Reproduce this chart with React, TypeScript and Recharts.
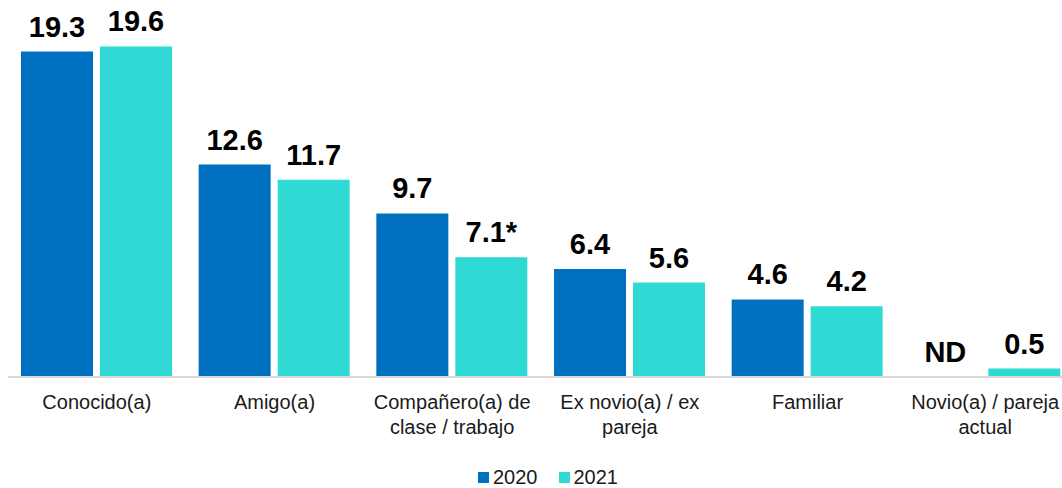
import { BarChart, Bar, XAxis, YAxis, LabelList, Legend } from "recharts";

const categories = [
  "Conocido(a)",
  "Amigo(a)",
  "Compañero(a) de\nclase / trabajo",
  "Ex novio(a) / ex\npareja",
  "Familiar",
  "Novio(a) / pareja\nactual",
];
const values2020: (number | null)[] = [19.3, 12.6, 9.7, 6.4, 4.6, null];
const values2021 = [19.6, 11.7, 7.1, 5.6, 4.2, 0.5];
const labels2020 = ["19.3", "12.6", "9.7", "6.4", "4.6", "ND"];
const labels2021 = ["19.6", "11.7", "7.1*", "5.6", "4.2", "0.5"];

const COLOR_2020 = "#0070c0";
const COLOR_2021 = "#2fd9d4";
const FONT = "'Liberation Sans', Arial, sans-serif";
const BAR_SIZE = 72;
const BAR_GAP = 7;

const data = categories.map((name, i) => ({
  name,
  v2020: values2020[i],
  v2021: values2021[i],
}));

function CategoryTick({ x, y, payload }: any) {
  const lines = String(payload.value).split("\n");
  return (
    <text x={x} y={y} textAnchor="middle" fontSize={20} fill="#1a1a1a" fontFamily={FONT}>
      {lines.map((line, i) => (
        <tspan key={i} x={x} dy={i === 0 ? 32 : 25}>
          {line}
        </tspan>
      ))}
    </text>
  );
}

function labelText(key: string | number, cx: number, y: number, text: string) {
  return (
    <text
      key={key}
      x={cx}
      y={y - 15}
      textAnchor="middle"
      fontSize={29}
      fontWeight="bold"
      fill="#000"
      fontFamily={FONT}
    >
      {text}
    </text>
  );
}

// 2020 labels; missing values are drawn from the 2021 bar instead
function label2020(props: any) {
  if (values2020[props.index] == null) return null;
  const vb = props.viewBox ?? props;
  return labelText("l", vb.x + vb.width / 2, vb.y, labels2020[props.index]);
}

// 2021 labels, plus the "ND" mark of the neighbouring 2020 slot when 2020 has no value
function label2021(props: any) {
  const vb = props.viewBox ?? props;
  const i = props.index;
  const base = vb.y + vb.height;
  return (
    <g>
      {labelText("a", vb.x + vb.width / 2, vb.y, labels2021[i])}
      {values2020[i] == null &&
        labelText("b", vb.x - BAR_GAP - vb.width / 2, base, labels2020[i])}
    </g>
  );
}

function LegendBox() {
  const items = [
    { label: "2020", color: COLOR_2020 },
    { label: "2021", color: COLOR_2021 },
  ];
  return (
    <div
      style={{
        display: "flex",
        justifyContent: "center",
        alignItems: "center",
        height: 26,
        paddingLeft: 14,
        paddingTop: 4,
        boxSizing: "border-box",
        fontFamily: FONT,
        fontSize: 20,
        color: "#1a1a1a",
      }}
    >
      {items.map((it, i) => (
        <div key={it.label} style={{ display: "flex", alignItems: "center", marginLeft: i ? 21 : 0 }}>
          <span style={{ width: 11, height: 11, background: it.color, marginRight: 4 }} />
          <span>{it.label}</span>
        </div>
      ))}
    </div>
  );
}

export default function App() {
  return (
    <div
      style={{
        position: "absolute",
        left: 0,
        top: 0,
        width: 1062,
        height: 488,
        overflow: "hidden",
        background: "#fff",
      }}
    >
      <BarChart
        width={1074}
        height={488}
        data={data}
        margin={{ top: 6, right: 0, bottom: 0, left: 8 }}
        barSize={BAR_SIZE}
        barGap={BAR_GAP}
        style={{ fontFamily: FONT }}
      >
        <YAxis hide domain={[0, 22]} />
        <XAxis
          dataKey="name"
          interval={0}
          height={85}
          tickLine={false}
          tickSize={0}
          tickMargin={0}
          axisLine={{ stroke: "#d9d9d9", strokeWidth: 2 }}
          tick={<CategoryTick />}
        />
        <Legend verticalAlign="bottom" height={26} content={<LegendBox />} />
        <Bar dataKey="v2020" name="2020" fill={COLOR_2020} isAnimationActive={false}>
          <LabelList dataKey="v2020" content={label2020} />
        </Bar>
        <Bar dataKey="v2021" name="2021" fill={COLOR_2021} isAnimationActive={false}>
          <LabelList dataKey="v2021" content={label2021} />
        </Bar>
      </BarChart>
    </div>
  );
}
